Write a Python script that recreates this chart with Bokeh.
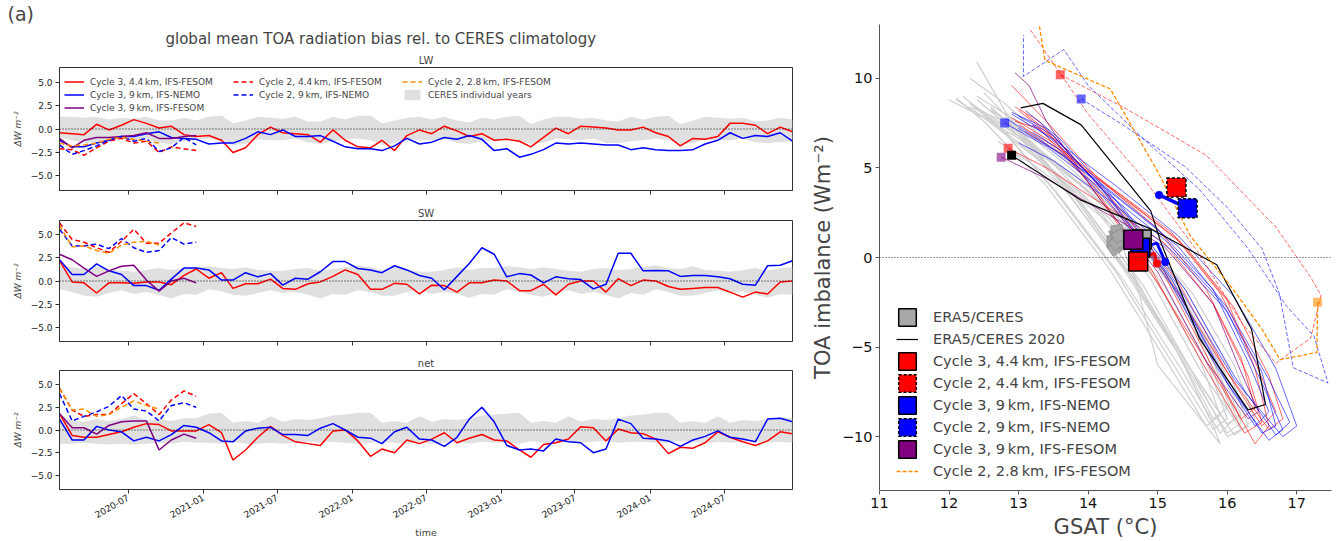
import pandas as pd
from bokeh.plotting import figure
from bokeh.layouts import row, column
from bokeh.models import (Range1d, FixedTicker, DatetimeTickFormatter, Span, Legend,
                          LegendItem, Title, Label, CustomJSTickFormatter)
from bokeh.embed import file_html
from bokeh.resources import INLINE

FONT = "DejaVu Sans"
RED, BLUE, PURPLE, ORANGE = "#ff0000", "#0000ff", "#800080", "#ff8c00"

# ---------------- panel (a) data: monthly bias, Jan 2020 .. Dec 2024 ----------------
MONTHS = pd.date_range("2020-01-01", "2024-12-01", freq="MS") + pd.Timedelta(days=14)
TICKS = ["2020-07", "2021-01", "2021-07", "2022-01", "2022-07", "2023-01", "2023-07", "2024-01", "2024-07"]

LW_C3_44 = [-0.4,-0.5,-0.6,0.5,-0.1,0.4,1.0,0.6,0.1,0.3,-0.6,-0.8,
            -0.7,-1.2,-2.5,-2.0,-0.6,0.2,-0.4,-0.5,-0.6,-1.4,-0.1,-1.2,
            -1.9,-2.0,-1.2,-2.3,-0.7,-0.1,-0.5,0.3,-0.2,-0.8,-0.5,-1.2,
            -1.1,-1.3,-1.9,-0.9,0.1,-0.5,0.3,0.2,0.1,-0.1,-0.1,0.2,
            -0.4,-0.8,-1.8,-1.0,-1.1,-0.8,0.6,0.6,0.4,-0.5,0.2,-0.3]
LW_C3_9N = [-1.2,-1.9,-1.9,-1.5,-1.2,-0.8,-0.8,-0.5,-0.3,-0.9,-1.0,-1.1,
            -1.6,-1.5,-1.5,-1.0,-0.3,-0.6,-0.1,-0.8,-0.8,-0.7,-1.3,-1.9,
            -2.1,-2.1,-2.3,-1.8,-1.0,-1.6,-1.4,-0.9,-1.1,-0.7,-1.1,-2.3,
            -2.1,-3.0,-2.7,-2.2,-1.5,-1.6,-1.5,-1.6,-1.7,-1.7,-2.2,-2.0,
            -2.2,-2.3,-2.3,-2.2,-1.6,-1.2,-0.4,-1.0,-0.7,-0.8,-0.4,-1.3]
LW_C3_9F = [-1.0,-2.0,-1.2,-0.9,-0.9,-0.8,-0.7,-0.4,-1.0,-1.0,-0.8,-0.7]
LW_C2_44 = [-2.1,-2.2,-2.8,-2.0,-1.3,-1.0,-1.5,-1.3,-2.5,-1.9,-2.1,-2.3]
LW_C2_9N = [-1.7,-2.7,-2.3,-1.8,-1.2,-0.8,-1.3,-1.0,-2.4,-2.0,-0.9,-1.7]
LW_C2_28 = [-1.5,-1.8,-1.7,-1.5,-1.1,-0.9,-1.1,-1.3,-1.5]
LW_CERES_HI = [1.3,1.3,1.2,1.3,1.0,1.2,1.1,1.3,0.9,0.9,1.2,0.9,
               1.3,1.4,0.6,0.9,1.3,1.2,1.1,1.3,0.8,0.8,1.3,1.0,
               1.4,1.4,0.6,0.9,1.2,1.3,1.0,1.3,0.9,0.7,1.2,1.0,
               1.3,1.4,0.5,1.0,1.3,1.3,1.1,1.2,0.9,0.8,1.3,1.0,
               1.3,1.4,0.5,0.9,1.3,1.2,1.1,1.2,0.8,0.9,1.2,1.0]
LW_CERES_LO = [-0.9,-1.2,-1.5,-1.4,-1.0,-1.1,-1.2,-1.0,-1.5,-1.6,-1.3,-1.2,
               -1.0,-1.3,-1.7,-1.6,-1.1,-1.2,-1.2,-1.0,-1.4,-1.6,-1.3,-1.1,
               -1.0,-1.2,-1.7,-1.5,-1.1,-1.2,-1.2,-1.0,-1.5,-1.6,-1.3,-1.2,
               -1.0,-1.3,-1.6,-1.5,-1.0,-1.1,-1.2,-1.0,-1.5,-1.5,-1.3,-1.2,
               -1.0,-1.2,-1.7,-1.5,-1.1,-1.2,-1.2,-1.0,-1.4,-1.5,-1.4,-1.3]

SW_C3_44 = [2.2,-0.1,-0.2,-1.3,-0.2,-0.2,-0.25,-0.1,-0.1,-0.4,0.6,1.3,
            0.3,0.9,-0.8,-0.3,-0.3,0.2,-0.8,-0.9,-0.3,-0.1,0.5,1.2,
            0.7,-0.9,-0.9,-0.25,-0.35,-1.4,-0.45,-0.5,-1.2,-0.2,-0.2,0.1,
            0.0,-1.05,-1.05,-0.35,-1.5,-0.35,0.0,0.0,-1.2,0.25,-0.5,0.1,
            0.0,-0.6,-0.9,-0.8,-0.7,-0.7,-1.2,-1.75,-1.2,-1.4,-0.1,0.0]
SW_C3_9N = [2.3,0.7,0.7,1.85,1.1,0.7,-0.5,-0.5,-1.0,0.2,1.4,1.4,
            1.2,0.1,0.1,0.9,0.45,0.8,-0.45,0.3,0.2,1.0,2.1,2.1,
            1.35,1.2,0.9,1.65,1.2,0.6,0.3,-0.95,0.5,1.9,3.6,2.9,
            0.45,0.8,0.65,-0.2,0.45,0.25,0.15,-0.85,-0.35,3.0,3.0,1.1,
            1.15,1.1,0.5,0.6,0.6,0.45,0.25,-0.35,-0.45,1.65,1.7,2.2]
SW_C3_9F = [2.9,2.3,1.4,0.5,1.1,1.6,1.7,0.1,-1.1,0.0,0.3,-0.2]
SW_C2_44 = [6.3,4.5,4.2,3.6,3.1,4.3,5.6,4.1,4.1,5.2,6.3,5.9]
SW_C2_9N = [5.6,3.8,3.8,4.0,3.5,4.6,3.6,3.1,3.3,4.7,4.0,4.2]
SW_C2_28 = [6.0,3.7,3.8,3.3,3.0,3.9,4.2,4.3,3.9]
SW_CERES_HI = [1.7,1.5,1.3,1.6,1.3,1.1,1.0,1.2,1.4,1.2,1.4,1.5,
               1.6,1.4,1.3,1.5,1.2,1.1,1.1,1.3,1.4,1.1,1.3,1.5,
               1.7,1.5,1.2,1.6,1.3,1.0,1.0,1.2,1.5,1.2,1.4,1.4,
               1.6,1.5,1.3,1.5,1.3,1.1,1.0,1.3,1.4,1.2,1.3,1.5,
               1.7,1.4,1.3,1.6,1.2,1.1,1.0,1.2,1.4,1.1,1.4,1.5]
SW_CERES_LO = [-0.9,-1.2,-1.6,-1.7,-1.3,-1.0,-1.4,-1.2,-1.5,-1.9,-1.4,-1.5,
               -0.9,-1.1,-1.5,-1.6,-1.3,-1.0,-1.3,-1.2,-1.5,-1.9,-1.4,-1.5,
               -1.0,-1.2,-1.6,-1.6,-1.2,-1.0,-1.4,-1.2,-1.4,-1.8,-1.4,-1.5,
               -0.9,-1.2,-1.5,-1.7,-1.3,-1.0,-1.4,-1.2,-1.5,-1.9,-1.3,-1.5,
               -0.9,-1.2,-1.6,-1.6,-1.3,-1.0,-1.4,-1.1,-1.5,-1.8,-1.4,-1.5]

NET_C3_44 = [1.8,-0.6,-0.8,-0.8,-0.5,-0.2,0.3,0.7,0.6,-0.1,-0.1,-0.1,
             0.6,-0.3,-3.3,-2.2,-0.8,0.4,-0.6,-1.3,-1.5,-1.7,-0.1,0.0,
             -1.2,-2.9,-2.1,-2.5,-1.1,-1.5,-1.0,-0.3,-1.4,-0.9,-0.5,-1.1,
             -1.2,-2.2,-3.0,-1.6,-1.4,-1.0,0.35,0.25,-1.2,0.1,-0.3,-0.4,
             -1.0,-2.6,-1.9,-2.0,-1.4,-0.2,-0.8,-1.3,-1.7,-1.2,-0.2,-0.4]
NET_C3_9N = [1.2,-1.1,-1.1,0.4,0.0,-0.2,-1.2,-0.8,-1.2,-0.5,0.5,0.3,
             -0.3,-1.2,-1.3,-0.1,0.2,0.3,-0.5,-0.5,-0.6,0.2,0.7,0.0,
             -0.8,-0.9,-1.5,-0.2,0.3,-1.0,-1.1,-1.8,-0.8,1.2,2.5,0.9,
             -1.7,-2.2,-2.1,-2.3,-1.0,-1.3,-1.4,-2.5,-2.1,1.2,0.7,-0.9,
             -1.0,-1.2,-1.8,-1.1,-0.7,-0.1,-0.8,-1.0,-1.3,1.2,1.3,0.9]
NET_C3_9F = [1.8,0.25,0.25,-0.45,0.5,0.9,1.0,1.0,-2.2,-1.1,-0.45,-0.9]
NET_C2_44 = [4.6,2.2,1.5,1.7,1.7,2.9,4.0,2.9,1.7,3.3,4.3,3.7]
NET_C2_9N = [4.0,1.0,1.5,2.0,2.6,3.8,2.3,2.1,1.0,2.7,3.0,2.5]
NET_C2_28 = [4.6,2.2,2.3,1.5,1.7,2.5,3.2,2.7,2.3]
NET_CERES_HI = [1.8,1.0,0.9,1.2,1.0,1.2,1.6,1.1,1.2,1.0,1.3,1.3,
                1.8,1.9,0.8,1.0,0.8,1.5,0.9,1.2,1.1,1.3,1.6,1.7,
                1.9,1.9,0.8,1.0,0.8,1.5,0.9,1.2,1.1,1.3,1.6,1.7,
                1.8,1.9,0.8,1.0,0.8,1.5,0.9,1.2,1.1,1.3,1.6,1.7,
                1.9,1.9,0.8,1.0,0.8,1.5,0.8,1.1,1.0,1.2,1.4,1.3]
NET_CERES_LO = [-1.5,-1.5,-1.4,-1.5,-1.6,-1.5,-1.6,-1.5,-1.4,-1.5,-1.3,-1.4,
                -1.4,-1.5,-1.3,-1.5,-1.5,-1.4,-1.5,-1.4,-1.3,-1.4,-1.3,-1.4,
                -1.5,-1.4,-1.3,-1.4,-1.5,-1.4,-1.5,-1.4,-1.3,-1.5,-1.3,-1.4,
                -1.4,-1.5,-1.2,-1.4,-1.5,-1.3,-1.4,-1.3,-1.2,-1.4,-1.3,-1.3,
                -1.4,-1.4,-1.2,-1.3,-1.5,-1.3,-1.4,-1.3,-1.2,-1.4,-1.3,-1.4]

# ---------------- panel (b) data: GSAT vs TOA imbalance monthly loops ----------------
GRAY_X = [
    [12.3,12.8,13.6,14.5,15.3,15.9,16.2,16.0,15.4,14.6,13.7,12.9,12.4],
    [12.1,12.6,13.4,14.3,15.1,15.7,16.0,15.8,15.2,14.4,13.5,12.7,12.2],
    [12.6,13.1,13.9,14.7,15.4,15.9,16.2,16.0,15.5,14.8,13.9,13.1,12.7],
    [12.3,12.8,13.6,14.5,15.2,15.7,16.0,15.8,15.3,14.5,13.6,12.8,12.4],
    [12.7,13.2,13.9,14.4,14.7,15.0,15.9,15.8,15.3,14.6,13.8,13.0,12.8],
    [12.5,13.0,13.8,14.7,15.5,16.1,16.4,16.2,15.6,14.9,14.0,13.1,12.6],
    [12.0,12.5,13.3,14.2,15.0,15.6,15.9,15.7,15.1,14.3,13.4,12.5,12.1],
    [12.4,12.9,13.7,14.6,15.4,16.0,16.3,16.1,15.5,14.7,13.8,13.0,12.5],
    [12.6,13.1,13.8,14.6,15.3,15.9,16.2,16.0,15.4,14.6,13.8,13.0,12.6],
    [12.3,12.8,13.5,14.4,15.2,15.8,16.1,15.9,15.3,14.5,13.6,12.8,12.3],
]
GRAY_Y = [
    [8.6,7.4,5.0,2.0,-1.8,-6.0,-9.2,-9.8,-6.0,-1.0,3.6,7.2,8.8],
    [8.8,7.6,5.2,2.2,-1.6,-5.8,-9.0,-9.6,-5.8,-0.8,3.8,7.4,9.0],
    [7.6,6.4,4.0,1.0,-2.6,-6.6,-9.6,-10.0,-6.4,-1.6,3.0,6.6,8.0],
    [10.0,8.6,5.8,2.6,-1.2,-5.4,-8.4,-9.0,-5.4,-0.6,4.2,8.2,10.9],
    [6.5,5.2,3.2,1.6,-1.5,-6.0,-10.4,-9.4,-5.4,-0.6,3.6,6.8,7.0],
    [8.0,6.8,4.6,1.6,-2.0,-6.0,-9.0,-9.6,-6.2,-1.2,3.2,6.8,8.3],
    [8.8,7.8,5.4,2.4,-1.4,-5.6,-8.8,-9.4,-5.6,-0.6,4.0,7.6,8.9],
    [9.0,7.8,5.4,2.2,-1.8,-6.0,-9.4,-9.9,-6.4,-1.4,3.4,7.2,9.2],
    [8.2,7.0,4.8,1.8,-1.8,-5.8,-8.8,-9.3,-5.8,-1.0,3.4,7.0,8.4],
    [8.4,7.6,5.4,2.4,-1.6,-5.8,-9.0,-9.8,-6.0,-1.2,3.4,7.0,8.6],
]
C3_44_X = [
    [12.85,13.4,14.2,15.1,15.8,16.3,16.5,16.25,15.6,14.9,14.1,13.3,12.95],
    [13.0,13.6,14.4,15.3,16.0,16.4,16.6,16.4,15.8,15.1,14.3,13.5,13.1],
    [12.9,13.5,14.3,15.2,15.9,16.4,16.7,16.5,15.9,15.1,14.2,13.4,13.0],
    [13.1,13.7,14.5,15.4,16.1,16.6,16.8,16.6,16.0,15.3,14.4,13.6,13.2],
    [12.9,13.4,14.1,15.0,15.7,16.2,16.4,16.2,15.6,14.8,14.0,13.3,12.95],
]
C3_44_Y = [
    [6.1,5.0,3.0,0.8,-2.6,-6.6,-9.2,-9.8,-5.6,-0.6,3.8,7.2,7.6],
    [7.4,6.0,3.6,1.0,-2.4,-6.2,-9.4,-10.4,-6.2,-1.0,3.4,6.8,8.0],
    [7.8,6.4,4.0,1.4,-2.0,-5.8,-8.6,-9.4,-5.8,-0.8,3.6,7.0,8.2],
    [7.0,5.6,3.4,0.6,-2.8,-6.6,-9.0,-9.6,-6.4,-1.4,3.0,6.4,7.4],
    [9.6,7.6,4.6,1.6,-1.8,-5.6,-8.4,-9.0,-5.2,-0.2,4.2,7.6,8.4],
]
C3_9N_X = [
    [12.8,13.4,14.2,15.1,15.9,16.5,16.7,16.5,15.9,15.2,14.3,13.5,13.0],
    [12.9,13.5,14.4,15.3,16.1,16.7,17.0,16.8,16.1,15.3,14.4,13.6,13.1],
    [13.0,13.6,14.4,15.3,16.0,16.6,16.9,16.7,16.1,15.4,14.5,13.6,13.2],
    [12.8,13.3,14.1,15.0,15.8,16.3,16.6,16.4,15.8,15.1,14.2,13.4,12.9],
    [13.0,13.5,14.3,15.2,16.0,16.5,16.8,16.6,16.0,15.3,14.4,13.6,13.2],
]
C3_9N_Y = [
    [7.5,6.2,3.8,1.0,-2.4,-6.4,-9.4,-9.8,-6.2,-1.2,3.4,6.8,7.9],
    [8.0,6.6,4.0,1.2,-2.2,-6.2,-9.4,-10.0,-6.8,-1.6,3.2,6.6,8.2],
    [7.2,5.8,3.4,0.6,-2.8,-6.8,-9.2,-9.9,-6.6,-1.8,2.8,6.2,7.4],
    [7.8,6.6,4.4,1.6,-1.8,-5.8,-8.6,-9.4,-5.8,-0.8,3.8,7.2,8.1],
    [6.4,5.4,3.2,0.4,-3.0,-7.0,-9.6,-10.2,-7.0,-2.0,2.6,6.0,7.0],
]
C3_9F_X = [12.75,13.4,14.2,15.1,15.8,16.2,16.45,16.3,15.7,15.0,14.1,13.4,13.15,12.95]
C3_9F_Y = [5.6,4.4,2.6,0.6,-2.6,-6.4,-8.6,-9.0,-5.8,-0.8,3.6,7.6,9.6,10.3]
ERA2020_X = [12.9,13.9,14.9,15.85,16.35,16.55,16.3,15.6,15.05,14.9,13.9,13.35,13.03]
ERA2020_Y = [5.7,3.2,1.6,-0.4,-4.0,-8.2,-8.5,-4.5,0.8,2.6,7.4,8.6,8.35]
C2_44_X = [13.6,14.5,15.7,16.7,17.2,17.35,17.2,16.7,16.2,15.6,14.8,14.0,13.17]
C2_44_Y = [10.2,8.4,5.7,1.7,-1.1,-2.1,-4.5,-5.9,-3.6,0.2,4.4,8.0,12.7]
C2_9N_X = [13.9,14.5,15.4,16.0,16.5,16.75,16.95,17.45,17.25,16.85,16.3,15.6,14.8,14.0,13.65,13.07,13.07]
C2_9N_Y = [8.85,7.4,5.05,2.8,0.5,-2.0,-6.15,-7.0,-4.4,-2.7,0.5,3.8,6.6,9.6,11.6,10.1,12.4]
C2_28_X = [13.3,13.38,14.32,15.0,15.47,16.09,16.5,16.76,17.29,17.3,17.3]
C2_28_Y = [12.9,11.0,9.4,4.8,1.2,-1.8,-4.0,-5.7,-5.3,-2.6,-2.5]

# annual means
ERA_YEARS_X = [14.35,14.40,14.45,14.42,14.38,14.48,14.50,14.40,14.44]
ERA_YEARS_Y = [0.9,1.3,0.7,1.5,0.5,1.1,0.9,0.8,1.2]
MEAN_ERA = (14.77, 1.01)
MEAN_C3_9N = (14.75, 0.55)
MEAN_C3_44 = (14.72, -0.22)
MEAN_C3_9F = (14.65, 0.99)
MEAN_C2_44 = (15.27, 3.91)
MEAN_C2_9N = (15.43, 2.75)
TRAJ_C3_9N_X, TRAJ_C3_9N_Y = [14.75, 14.99, 15.11], [0.55, 0.8, -0.25]
TRAJ_C3_44_X, TRAJ_C3_44_Y = [14.72, 14.95, 14.99], [-0.22, 0.25, -0.33]
TRAJ_C2_9N_X, TRAJ_C2_9N_Y = [15.43, 15.02], [2.75, 3.49]

LBL_C3_44 = "Cycle 3, 4.4\u2009km, IFS-FESOM"
LBL_C2_44 = "Cycle 2, 4.4\u2009km, IFS-FESOM"
LBL_C3_9N = "Cycle 3, 9\u2009km, IFS-NEMO"
LBL_C2_9N = "Cycle 2, 9\u2009km, IFS-NEMO"
LBL_C3_9F = "Cycle 3, 9\u2009km, IFS-FESOM"
LBL_C2_28 = "Cycle 2, 2.8\u2009km, IFS-FESOM"

# ---------------- panel (a) ----------------
xr = Range1d(start=MONTHS[0], end=MONTHS[-1])
tick_ms = [pd.Timestamp(t + "-01").value // 10**6 for t in TICKS]
AX = "#333333"


def left_panel(name, height, top, bottom, c3_44, c3_9n, c3_9f, c2_44, c2_9n, c2_28, hi, lo, last):
    p = figure(width=800, height=height, x_axis_type="datetime", x_range=xr,
               y_range=Range1d(-6.55, 6.55), output_backend="svg", toolbar_location=None,
               min_border_left=59, min_border_right=8, min_border_top=top, min_border_bottom=bottom)
    p.title = None
    p.add_layout(Title(text=name, align="center", text_font=FONT, text_font_size="10px",
                       text_font_style="normal", standoff=4), "above")
    p.grid.visible = False
    p.outline_line_color = AX
    p.background_fill_color = "white"
    band = p.varea(x=MONTHS, y1=lo, y2=hi, fill_color="#e0e0e0")
    p.add_layout(Span(location=0, dimension="width", line_color="black", line_dash="1 2", line_width=1.2))
    r1 = p.line(MONTHS, c3_44, line_color=RED, line_width=1.5)
    r2 = p.line(MONTHS, c3_9n, line_color=BLUE, line_width=1.5)
    r3 = p.line(MONTHS[:len(c3_9f)], c3_9f, line_color=PURPLE, line_width=1.5)
    r4 = p.line(MONTHS[:len(c2_44)], c2_44, line_color=RED, line_width=1.5, line_dash="5 3")
    r5 = p.line(MONTHS[:len(c2_9n)], c2_9n, line_color=BLUE, line_width=1.5, line_dash="5 3")
    r6 = p.line(MONTHS[:len(c2_28)], c2_28, line_color=ORANGE, line_width=1.5, line_dash="5 3")
    p.xaxis.ticker = FixedTicker(ticks=tick_ms)
    if last:
        p.xaxis.formatter = DatetimeTickFormatter(months="%Y-%m", days="%Y-%m", years="%Y-%m",
                                                  hours="%Y-%m", minutes="%Y-%m")
        p.xaxis.major_label_orientation = 0.5236
        p.xaxis.axis_label = "time"
        p.xaxis.axis_label_text_font = FONT
        p.xaxis.axis_label_text_font_size = "9.5px"
        p.xaxis.axis_label_text_font_style = "normal"
        p.xaxis.axis_label_standoff = 3
    else:
        p.xaxis.formatter = CustomJSTickFormatter(code="return '';")
    p.yaxis.ticker = FixedTicker(ticks=[-5, -2.5, 0, 2.5, 5])
    p.yaxis.formatter = CustomJSTickFormatter(code="return tick.toFixed(1).replace('-', '\u2212');")
    p.yaxis.axis_label = "\u0394W m\u207b\u00b2"
    p.yaxis.axis_label_text_font = FONT
    p.yaxis.axis_label_text_font_size = "9px"
    p.yaxis.axis_label_text_font_style = "italic"
    p.yaxis.axis_label_standoff = 5
    for ax in (p.xaxis, p.yaxis):
        ax.major_label_text_font = FONT
        ax.major_label_text_font_size = "9px"
        ax.major_label_text_color = "#222222"
        ax.axis_line_color = AX
        ax.major_tick_line_color = AX
        ax.major_tick_in = 0
        ax.major_tick_out = 4
        ax.minor_tick_line_color = None
        ax.major_label_standoff = 3
    return p, (r1, r2, r3, r4, r5, r6, band)


p1, rs = left_panel("LW", 203, 66, 13, LW_C3_44, LW_C3_9N, LW_C3_9F, LW_C2_44, LW_C2_9N, LW_C2_28,
                    LW_CERES_HI, LW_CERES_LO, False)
p2, _ = left_panel("SW", 150, 13, 12, SW_C3_44, SW_C3_9N, SW_C3_9F, SW_C2_44, SW_C2_9N, SW_C2_28,
                   SW_CERES_HI, SW_CERES_LO, False)
p3, _ = left_panel("net", 188, 13, 50, NET_C3_44, NET_C3_9N, NET_C3_9F, NET_C2_44, NET_C2_9N, NET_C2_28,
                   NET_CERES_HI, NET_CERES_LO, True)

p1.add_layout(Title(text="global mean TOA radiation bias rel. to CERES climatology", align="left",
                    offset=106, text_font=FONT, text_font_size="15px", text_font_style="normal",
                    standoff=6), "above")
p1.add_layout(Title(text="(a)", align="left", offset=-52, text_font=FONT, text_font_size="19px",
                    text_font_style="normal", standoff=0), "above")


def small_legend(items, loc):
    return Legend(items=items, location=loc, glyph_width=20, glyph_height=13, label_height=13,
                  spacing=0, padding=3, margin=0, label_standoff=6, label_text_font=FONT,
                  label_text_font_size="9px", border_line_color=None, background_fill_alpha=0)


r1, r2, r3, r4, r5, r6, band = rs
p1.add_layout(small_legend([LegendItem(label=LBL_C3_44, renderers=[r1]),
                            LegendItem(label=LBL_C3_9N, renderers=[r2]),
                            LegendItem(label=LBL_C3_9F, renderers=[r3])], (5, 76)), "center")
p1.add_layout(small_legend([LegendItem(label=LBL_C2_44, renderers=[r4]),
                            LegendItem(label=LBL_C2_9N, renderers=[r5])], (174, 89)), "center")
p1.add_layout(small_legend([LegendItem(label=LBL_C2_28, renderers=[r6]),
                            LegendItem(label="CERES individual years", renderers=[band])], (343, 89)), "center")

# ---------------- panel (b) ----------------
p4 = figure(width=536, height=541, x_range=Range1d(11, 17.5), y_range=Range1d(-13, 13),
            output_backend="svg", toolbar_location=None, min_border_left=79, min_border_right=5,
            min_border_top=24, min_border_bottom=45)
p4.grid.visible = False
p4.outline_line_color = None
p4.add_layout(Span(location=0, dimension="width", line_color="#333333", line_dash="1 2", line_width=1.2))

p4.multi_line(GRAY_X, GRAY_Y, line_color="#cfcfcf", line_width=1.2)
p4.multi_line(C3_44_X, C3_44_Y, line_color=RED, line_alpha=0.6, line_width=1)
p4.multi_line(C3_9N_X, C3_9N_Y, line_color=BLUE, line_alpha=0.6, line_width=1)
p4.line(C3_9F_X, C3_9F_Y, line_color=PURPLE, line_alpha=0.7, line_width=1)
r_era20 = p4.line(ERA2020_X, ERA2020_Y, line_color="black", line_width=1.2)
p4.line(C2_44_X, C2_44_Y, line_color=RED, line_alpha=0.6, line_width=1, line_dash="4 2")
p4.line(C2_9N_X, C2_9N_Y, line_color=BLUE, line_alpha=0.6, line_width=1, line_dash="4 2")
r_c228 = p4.line(C2_28_X, C2_28_Y, line_color=ORANGE, line_width=1.3, line_dash="4 2")

# start-point markers
p4.scatter([C3_44_X[0][0], C2_44_X[0], C3_9N_X[0][0], C2_9N_X[0], C3_9F_X[0], ERA2020_X[0], C2_28_X[-1]],
           [C3_44_Y[0][0], C2_44_Y[0], C3_9N_Y[0][0], C2_9N_Y[0], C3_9F_Y[0], ERA2020_Y[0], C2_28_Y[-1]],
           marker="square", size=9,
           fill_color=[RED, RED, BLUE, BLUE, PURPLE, "black", ORANGE],
           fill_alpha=[0.6, 0.6, 0.6, 0.6, 0.6, 1.0, 0.6], line_color=None)

# annual means of individual ERA5/CERES years
p4.scatter(ERA_YEARS_X, ERA_YEARS_Y, marker="square", size=11, angle=[0, 0.4, 0.8, 0.2, 0.6, 1.0, 0.3, 0.7, 0.5],
           fill_color="#a8a8a8", line_color="#888888", line_width=0.8)

# trajectories of running means
p4.line(TRAJ_C3_9N_X, TRAJ_C3_9N_Y, line_color=BLUE, line_width=3)
p4.line(TRAJ_C3_44_X, TRAJ_C3_44_Y, line_color=RED, line_width=3)
p4.line(TRAJ_C2_9N_X, TRAJ_C2_9N_Y, line_color=BLUE, line_width=3.5)
p4.scatter([TRAJ_C3_9N_X[-1], TRAJ_C3_44_X[-1], TRAJ_C2_9N_X[-1]],
           [TRAJ_C3_9N_Y[-1], TRAJ_C3_44_Y[-1], TRAJ_C2_9N_Y[-1]],
           size=8, fill_color=[BLUE, RED, BLUE], line_color=None)

SQ = dict(marker="square", size=19, line_color="black", line_width=1.5)
p4.scatter([MEAN_ERA[0]], [MEAN_ERA[1]], fill_color="#a8a8a8", **SQ)
p4.scatter([MEAN_C3_9N[0]], [MEAN_C3_9N[1]], fill_color=BLUE, **SQ)
p4.scatter([MEAN_C3_44[0]], [MEAN_C3_44[1]], fill_color=RED, **SQ)
p4.scatter([MEAN_C3_9F[0]], [MEAN_C3_9F[1]], fill_color=PURPLE, **SQ)
p4.scatter([MEAN_C2_44[0]], [MEAN_C2_44[1]], fill_color=RED, line_dash="3 2", **SQ)
p4.scatter([MEAN_C2_9N[0]], [MEAN_C2_9N[1]], fill_color=BLUE, line_dash="3 2", **SQ)


# legend proxies: hidden one-cell rects at the annual-mean positions (only their legend glyph is shown)
def lq(mean, color, dash="solid"):
    return p4.quad(left=[mean[0]], right=[mean[0]], top=[mean[1]], bottom=[mean[1]],
                   fill_color=color, line_color="black", line_width=1.5, line_dash=dash, visible=False)


q_era = lq(MEAN_ERA, "#a8a8a8")
q_c344 = lq(MEAN_C3_44, RED)
q_c244 = lq(MEAN_C2_44, RED, "3 2")
q_c39n = lq(MEAN_C3_9N, BLUE)
q_c29n = lq(MEAN_C2_9N, BLUE, "3 2")
q_c39f = lq(MEAN_C3_9F, PURPLE)
leg = Legend(items=[LegendItem(label="ERA5/CERES", renderers=[q_era]),
                    LegendItem(label="ERA5/CERES 2020", renderers=[r_era20]),
                    LegendItem(label=LBL_C3_44, renderers=[q_c344]),
                    LegendItem(label=LBL_C2_44, renderers=[q_c244]),
                    LegendItem(label=LBL_C3_9N, renderers=[q_c39n]),
                    LegendItem(label=LBL_C2_9N, renderers=[q_c29n]),
                    LegendItem(label=LBL_C3_9F, renderers=[q_c39f]),
                    LegendItem(label=LBL_C2_28, renderers=[r_c228])],
             location=(17, 8), glyph_width=22, glyph_height=22, label_height=22, spacing=0,
             padding=0, margin=0, label_standoff=15, label_text_font=FONT,
             label_text_font_size="14.5px", border_line_color=None, background_fill_alpha=0,
             inactive_fill_alpha=0, click_policy="none")
p4.add_layout(leg, "center")

p4.xaxis.ticker = FixedTicker(ticks=[11, 12, 13, 14, 15, 16, 17])
p4.yaxis.ticker = FixedTicker(ticks=[-10, -5, 0, 5, 10])
p4.yaxis.formatter = CustomJSTickFormatter(code="return tick.toFixed(0).replace('-', '\u2212');")
p4.xaxis.axis_label = "GSAT (\u00b0C)"
p4.yaxis.axis_label = "TOA imbalance (Wm\u207b\u00b2)"
for ax in (p4.xaxis, p4.yaxis):
    ax.axis_label_text_font = FONT
    ax.axis_label_text_font_size = "21px"
    ax.axis_label_text_font_style = "normal"
    ax.axis_label_standoff = 4
    ax.major_label_text_font = FONT
    ax.major_label_text_font_size = "14.5px"
    ax.major_label_text_color = "#111111"
    ax.axis_line_color = "#555555"
    ax.major_tick_line_color = "#555555"
    ax.major_tick_in = 0
    ax.major_tick_out = 4
    ax.minor_tick_line_color = None
    ax.major_label_standoff = 3

p4.add_layout(Label(x=9.937, y=12.86, text="(b)", text_font=FONT, text_font_size="19px",
                    text_baseline="middle", text_align="left"))

layout = row(column(p1, p2, p3), p4)
open("out.html", "w").write(file_html(layout, INLINE))
